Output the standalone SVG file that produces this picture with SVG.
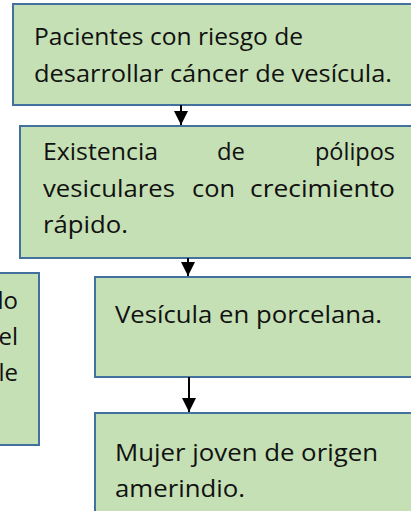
<svg xmlns="http://www.w3.org/2000/svg" width="411" height="511" viewBox="0 0 411 511">
<style>
.box{fill:#C5E0B4;stroke:#41719C;stroke-width:2}
.t{font-family:"Open Sans","Liberation Sans",sans-serif;font-size:24px;fill:#111}
.c{stroke:#000;stroke-width:2;fill:none}
</style>
<defs>
<marker id="ah" markerWidth="7" markerHeight="7" refX="7" refY="3.5" orient="auto" markerUnits="strokeWidth">
<path d="M0,0 L7,3.5 L0,7 Z" fill="#000"/>
</marker>
</defs>
<rect width="411" height="511" fill="#fff"/>
<g id="left">
<rect class="box" x="-10" y="273" width="49" height="172"/>
<text class="t" x="18" y="309" text-anchor="end">lo</text>
<text class="t" x="18" y="345" text-anchor="end">el</text>
<text class="t" x="18" y="381" text-anchor="end">le</text>
</g>
<g id="n1">
<rect class="box" x="13" y="4" width="410" height="101"/>
<text class="t" x="34" y="45" textLength="269" lengthAdjust="spacingAndGlyphs">Pacientes con riesgo de</text>
<text class="t" x="34" y="82" textLength="358" lengthAdjust="spacingAndGlyphs">desarrollar cáncer de vesícula.</text>
</g>
<g id="n2">
<rect class="box" x="20" y="126" width="403" height="132"/>
<text class="t" x="43" y="160" textLength="115" lengthAdjust="spacingAndGlyphs">Existencia</text>
<text class="t" x="217" y="160" textLength="28" lengthAdjust="spacingAndGlyphs">de</text>
<text class="t" x="395" y="160" text-anchor="end" textLength="80" lengthAdjust="spacingAndGlyphs">pólipos</text>
<text class="t" x="43" y="197" textLength="132" lengthAdjust="spacingAndGlyphs">vesiculares</text>
<text class="t" x="192" y="197" textLength="43" lengthAdjust="spacingAndGlyphs">con</text>
<text class="t" x="250" y="197" textLength="145" lengthAdjust="spacingAndGlyphs">crecimiento</text>
<text class="t" x="43" y="233" textLength="85" lengthAdjust="spacingAndGlyphs">rápido.</text>
</g>
<g id="n3">
<rect class="box" x="95" y="277" width="328" height="100"/>
<text class="t" x="115" y="323" textLength="267" lengthAdjust="spacingAndGlyphs">Vesícula en porcelana.</text>
</g>
<g id="n4">
<rect class="box" x="95" y="413" width="328" height="110"/>
<text class="t" x="115" y="461" textLength="263" lengthAdjust="spacingAndGlyphs">Mujer joven de origen</text>
<text class="t" x="115" y="497" textLength="130" lengthAdjust="spacingAndGlyphs">amerindio.</text>
</g>
<g id="connectors">
<line class="c" x1="181" y1="105" x2="181" y2="125" marker-end="url(#ah)"/>
<line class="c" x1="188" y1="258" x2="188" y2="276" marker-end="url(#ah)"/>
<line class="c" x1="189" y1="377" x2="189" y2="412" marker-end="url(#ah)"/>
</g>
</svg>
